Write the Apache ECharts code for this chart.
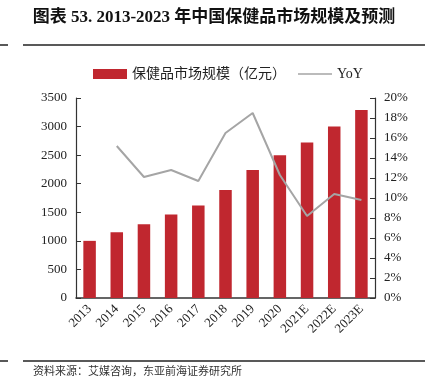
<!DOCTYPE html>
<html><head><meta charset="utf-8">
<script src="https://cdn.jsdelivr.net/npm/echarts@6/dist/echarts.min.js"></script>
<style>html,body{margin:0;padding:0;background:#fff}#c{width:428px;height:383px}</style>
</head><body><div id="c"></div>
<script>
const categories = ['2013','2014','2015','2016','2017','2018','2019','2020','2021E','2022E','2023E'];
const marketSize = [1000,1150,1290,1460,1620,1890,2240,2500,2720,3000,3290];
const yoy = [null,15.2,12.1,12.8,11.7,16.5,18.5,12.3,8.2,10.4,9.8];
const leftTicks = {min:0,max:3500,interval:500};
const rightTicks = {min:0,max:20,interval:2};
const titleText = '图表 53. 2013-2023 年中国保健品市场规模及预测';
const sourceText = '资料来源：艾媒咨询，东亚前海证券研究所';
const seriesNames = ['保健品市场规模（亿元）','YoY'];

const chart = echarts.init(document.getElementById('c'), null, {renderer:'canvas'});
const serif = '"Liberation Serif","DejaVu Serif",serif';
chart.setOption({
  animation:false,
  title:{text:titleText,left:'center',top:4,textStyle:{fontFamily:'"Liberation Serif","Noto Sans CJK SC",serif',fontSize:17,fontWeight:'bold',color:'#111'}},
  graphic:[
    {type:'line',shape:{x1:0,y1:45,x2:8,y2:45},style:{stroke:'#222',lineWidth:1.5}},
    {type:'line',shape:{x1:23,y1:45,x2:425,y2:45},style:{stroke:'#222',lineWidth:1.5}},
    {type:'line',shape:{x1:0,y1:361,x2:8,y2:361},style:{stroke:'#222',lineWidth:1.5}},
    {type:'line',shape:{x1:23,y1:361,x2:425,y2:361},style:{stroke:'#222',lineWidth:1.5}},
    {type:'text',left:33,top:365,style:{text:sourceText,font:'11px "Noto Sans CJK SC",sans-serif',fill:'#333'}}
  ],
  legend:{top:62,left:88,itemGap:12,itemWidth:34,itemHeight:10,textStyle:{fontFamily:'"Liberation Serif","Noto Sans CJK SC",serif',fontSize:14,color:'#222'},
    data:[{name:seriesNames[0],icon:'rect'},{name:seriesNames[1],icon:'path://M0,0 L34,0 L34,1.6 L0,1.6 Z',itemStyle:{color:'#A5A5A5'}}]},
  grid:{left:76,right:53,top:98,bottom:85},
  xAxis:{type:'category',data:categories,
    axisLine:{lineStyle:{color:'#333',width:1.5}},axisTick:{show:false},
    axisLabel:{rotate:45,fontFamily:serif,fontSize:13,color:'#222',margin:9,interval:0}},
  yAxis:[
    {type:'value',min:leftTicks.min,max:leftTicks.max,interval:leftTicks.interval,
     axisLine:{show:true,lineStyle:{color:'#333',width:1.2}},axisTick:{show:true,inside:true,length:5,lineStyle:{color:'#333'}},
     splitLine:{show:false},axisLabel:{fontFamily:serif,fontSize:13,color:'#222',margin:9,formatter:function(v){return String(v);}}},
    {type:'value',min:rightTicks.min,max:rightTicks.max,interval:rightTicks.interval,
     axisLine:{show:true,lineStyle:{color:'#333',width:1.2}},axisTick:{show:true,inside:true,length:5,lineStyle:{color:'#333'}},
     splitLine:{show:false},axisLabel:{fontFamily:serif,fontSize:13,color:'#222',margin:9,formatter:'{value}%'}}
  ],
  series:[
    {name:seriesNames[0],type:'bar',data:marketSize,barWidth:'46%',itemStyle:{color:'#C0272F'}},
    {name:seriesNames[1],type:'line',yAxisIndex:1,data:yoy,symbol:'none',lineStyle:{color:'#A5A5A5',width:2},itemStyle:{color:'#A5A5A5'}}
  ]
});
</script></body></html>
